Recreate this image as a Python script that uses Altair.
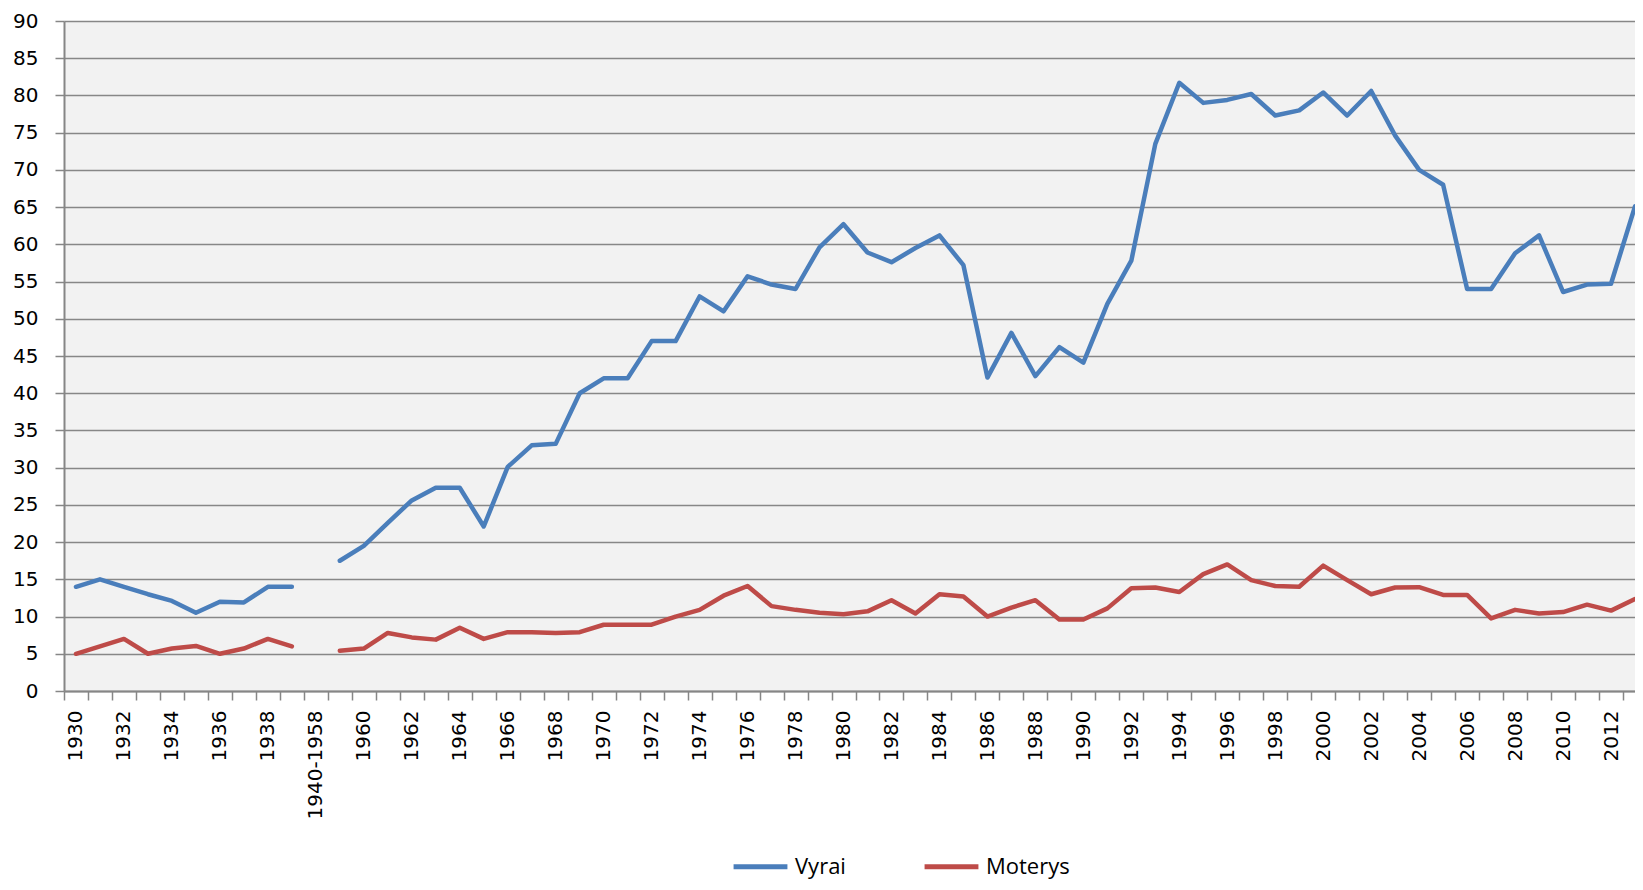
import altair as alt
import pandas as pd

categories = [str(y) for y in range(1930, 1940)] + ["1940-1958"] + [str(y) for y in range(1959, 2014)]

vyrai = [14, 15, 14, 13, 12.1, 10.5, 12, 11.9, 14, 14, None,
         17.5, 19.5, 22.6, 25.6, 27.3, 27.3, 22.1, 30.1, 33.0, 33.2,
         40.0, 42.0, 42.0, 47.0, 47.0, 53.0, 51.0, 55.7, 54.6, 54.0,
         59.6, 62.7, 58.9, 57.6, 59.5, 61.2, 57.2, 42.1, 48.1, 42.3,
         46.2, 44.1, 52.0, 57.8, 73.5, 81.7, 79.0, 79.4, 80.2, 77.3,
         78.0, 80.4, 77.3, 80.6, 74.6, 70.0, 68.0, 54.0, 54.0, 58.8,
         61.2, 53.6, 54.6, 54.7, 65.1]

moterys = [5, 6, 7, 5, 5.7, 6.05, 5, 5.7, 7, 6, None,
           5.4, 5.7, 7.8, 7.2, 6.9, 8.5, 7.0, 7.9, 7.9, 7.8,
           7.9, 8.9, 8.9, 8.9, 10.0, 10.9, 12.8, 14.1, 11.4, 10.9,
           10.5, 10.3, 10.7, 12.2, 10.4, 13.0, 12.7, 10.0, 11.2, 12.2,
           9.6, 9.6, 11.1, 13.8, 13.9, 13.3, 15.7, 17.0, 14.9, 14.1,
           14.0, 16.85, 14.9, 13.0, 13.9, 13.95, 12.9, 12.9, 9.75, 10.9,
           10.4, 10.6, 11.6, 10.8, 12.35]

series_names = ["Vyrai", "Moterys"]
series_colors = ["#4a7ebb", "#be4b48"]
y_ticks = list(range(0, 95, 5))

rows = []
for name, vals in zip(series_names, [vyrai, moterys]):
    part = 0
    for cat, v in zip(categories, vals):
        if v is None:
            part += 1
            continue
        rows.append({"year": cat, "value": v, "series": name, "part": f"{name}-{part}"})
df = pd.DataFrame(rows)

label_expr = "(datum.value == '1940-1958' || toNumber(datum.value) % 2 == 0) ? datum.label : ''"

chart = alt.Chart(df).mark_line(strokeWidth=4.5, strokeJoin="round", strokeCap="round").encode(
    x=alt.X("year:O", sort=categories, bandPosition=0.5,
            scale=alt.Scale(type="band", domain=categories, range=[0, 1583], paddingInner=0, paddingOuter=0),
            axis=alt.Axis(title=None, labelAngle=270, labelExpr=label_expr, labelOverlap=False,
                          tickBand="extent", tickSize=9, tickColor="#868686", tickWidth=1.5,
                          domainColor="#868686", domainWidth=2, labelPadding=10,
                          labelFont="DejaVu Sans", labelFontSize=20, labelColor="#000000",
                          grid=False)),
    y=alt.Y("value:Q", scale=alt.Scale(domain=[0, 90], nice=False, zero=True),
            axis=alt.Axis(title=None, values=y_ticks, grid=True, gridColor="#878787", gridWidth=1.6,
                          tickSize=9, tickColor="#868686", tickWidth=1.5,
                          domainColor="#868686", domainWidth=2, labelPadding=17,
                          labelFont="DejaVu Sans", labelFontSize=20, labelColor="#000000")),
    color=alt.Color("series:N", sort=series_names,
                    scale=alt.Scale(domain=series_names, range=series_colors),
                    legend=alt.Legend(title=None, orient="none", legendX=667, legendY=816,
                                      direction="horizontal", symbolType="stroke", symbolSize=2900,
                                      symbolStrokeWidth=5, labelOffset=5, columnPadding=68, padding=0,
                                      labelFont="Open Sans", labelFontSize=22, labelColor="#000000")),
    detail="part:N",
).properties(
    width=1571, height=670,
    autosize=alt.AutoSizeParams(type="none"),
    padding={"left": 56, "top": 13, "right": 0, "bottom": 191},
).configure_view(fill="#f2f2f2", strokeWidth=0)

chart.save("out.html", embed_options={"renderer": "svg", "actions": False})
